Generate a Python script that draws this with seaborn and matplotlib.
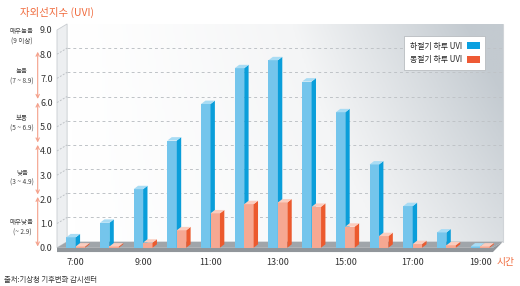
import numpy as np
import pandas as pd
import matplotlib
matplotlib.use("Agg")
import matplotlib.pyplot as plt
from matplotlib.patches import Polygon, Patch
from matplotlib.colors import LinearSegmentedColormap
import seaborn as sns

# ---------------- data ----------------
times = ["7:00", "8:00", "9:00", "10:00", "11:00", "12:00", "13:00",
         "14:00", "15:00", "16:00", "17:00", "18:00", "19:00"]
summer_uvi = [0.43, 1.03, 2.42, 4.43, 5.94, 7.42, 7.75, 6.87, 5.60, 3.44, 1.72, 0.63, 0.05]
winter_uvi = [0.05, 0.05, 0.21, 0.72, 1.42, 1.80, 1.87, 1.69, 0.87, 0.48, 0.15, 0.10, 0.05]
series_names = ["하절기 하루 UVI", "동절기 하루 UVI"]
xtick_labels = ["7:00", "9:00", "11:00", "13:00", "15:00", "17:00", "19:00"]
ytick_values = [0, 1, 2, 3, 4, 5, 6, 7, 8, 9]
levels = ["매우높음\n(9 이상)", "높음\n(7 ~ 8.9)", "보통\n(5 ~ 6.9)", "낮음\n(3 ~ 4.9)", "매우낮음\n(~ 2.9)"]
level_pos = [8.74, 7.09, 5.14, 2.9, 0.83]
arrow_spans = [(8.1, 6.15), (6.0, 4.35), (4.25, 2.2), (2.1, 0.05)]

df = pd.DataFrame({
    "time": times * 2,
    "season": [series_names[0]] * len(times) + [series_names[1]] * len(times),
    "uvi": summer_uvi + winter_uvi,
})

# ---------------- style ----------------
sns.set_theme(style="white")
plt.rcParams["font.family"] = ["Noto Sans CJK KR", "DejaVu Sans"]

front = {series_names[0]: "#74C5EC", series_names[1]: "#F6A892"}
side = {series_names[0]: "#0A9EDA", series_names[1]: "#EC5A2E"}
top = {series_names[0]: "#A9DCF4", series_names[1]: "#FBCDBF"}
legend_col = {series_names[0]: "#0AA0E0", series_names[1]: "#EE5A35"}
orange_txt = "#F06A3C"

fig = plt.figure(figsize=(5.2, 2.86), dpi=100)
ax = fig.add_axes([0.1054, 0.117, 0.8665, 0.812])

sns.barplot(data=df, x="time", y="uvi", hue="season", order=times,
            hue_order=series_names, palette=front, width=0.56, dodge=True,
            saturation=1, legend=False, ax=ax, edgecolor="none", linewidth=0)

ax.set_xlim(-0.62, 12.75)
ax.set_ylim(-0.2, 9.4)
ax.set_facecolor("none")
for s in ax.spines.values():
    s.set_visible(False)

# ---------------- 3D room (walls / floor) ----------------
xl, xr = -0.555, 12.38
wdx, wdy = 0.30, 0.25
top_v = 9.0

# back wall gradient
nx, ny = 200, 120
gx = np.linspace(0, 1, nx)
gy = np.linspace(0, 1, ny)
GX, GY = np.meshgrid(gx, gy)
grad = np.clip(0.75 * GX ** 1.3 + 0.35 * (1 - GY) * GX, 0, 1)
cmap = LinearSegmentedColormap.from_list("wall", ["#FFFFFF", "#F4F5F6", "#C3CAD0"])
ax.imshow(grad, extent=[xl + wdx, xr + wdx, wdy, top_v + wdy], origin="upper",
          cmap=cmap, aspect="auto", zorder=0.1, interpolation="bilinear")
ax.plot([xr + wdx, xr + wdx], [wdy, top_v + wdy], color="#D0D4D8", lw=0.8, zorder=0.15)

# left wall
ax.add_patch(Polygon([(xl, 0), (xl + wdx, wdy), (xl + wdx, top_v + wdy), (xl, top_v)],
                     closed=True, facecolor="#EDEFF1", edgecolor="#C8CCD0", lw=0.6, zorder=0.2))

# floor top and front slab
ax.add_patch(Polygon([(xl, 0), (xr, 0), (xr + wdx, wdy), (xl + wdx, wdy)], closed=True,
                     facecolor="#A0A5AA", edgecolor="none", zorder=0.3))
ax.add_patch(Polygon([(xl, -0.18), (xr, -0.18), (xr + wdx, wdy), (xr, 0), (xl, 0)], closed=True,
                     facecolor="#91969B", edgecolor="none", zorder=0.3))

# gridlines
for v in ytick_values[1:-1]:
    ax.plot([xl + wdx, xr + wdx], [v + wdy, v + wdy], ls=(0, (3, 3)), color="#BFC3C7",
            lw=0.7, zorder=0.25)
    ax.plot([xl, xl + wdx], [v, v + wdy], ls=(0, (2, 1.5)), color="#BFC3C7", lw=0.7, zorder=0.25)

# ---------------- bar depth faces ----------------
dx, dy = 0.13, 0.14
for ci, (cont, name) in enumerate(zip(ax.containers, series_names)):
    z = 2 + ci
    for p in cont.patches:
        x0 = p.get_x()
        w = p.get_width()
        h = p.get_height()
        x1 = x0 + w
        p.set_zorder(z)
        ax.add_patch(Polygon([(x1, 0), (x1 + dx, dy), (x1 + dx, h + dy), (x1, h)], closed=True,
                             facecolor=side[name], edgecolor="none", zorder=z))
        ax.add_patch(Polygon([(x0, h), (x1, h), (x1 + dx, h + dy), (x0 + dx, h + dy)], closed=True,
                             facecolor=top[name], edgecolor="none", zorder=z))

# ---------------- ticks ----------------
ax.set_yticks(ytick_values)
ax.set_yticklabels([f"{v:.1f}" for v in ytick_values], fontsize=6.5, color="#333333")
ax.set_xticks([times.index(t) for t in xtick_labels])
ax.set_xticklabels(xtick_labels, fontsize=6.5, color="#333333")
ax.tick_params(axis="y", length=0, pad=1.5)
ax.tick_params(axis="x", length=0, pad=4)
ax.set_xlabel("")
ax.set_ylabel("")

# ---------------- left UV level labels ----------------
tr = ax.get_yaxis_transform()
for lab, yv in zip(levels, level_pos):
    ax.text(-0.073, yv, lab, transform=tr, ha="center", va="center", fontsize=4.7,
            color="#444444", linespacing=1.45, clip_on=False)
for a, b in arrow_spans:
    ax.annotate("", xy=(-0.038, b), xytext=(-0.038, a), xycoords=tr, textcoords=tr,
                arrowprops=dict(arrowstyle="<->", color="#F4A08A", lw=0.8,
                                shrinkA=0, shrinkB=0, mutation_scale=6),
                annotation_clip=False)

# ---------------- texts ----------------
fig.text(20 / 520, 1 - 12 / 286, "자외선지수 (UVI)", fontsize=7.5, color=orange_txt,
         ha="left", va="center")
fig.text(497 / 520, 1 - 262 / 286, "시간", fontsize=7, color=orange_txt, ha="left", va="center")
fig.text(4 / 520, 1 - 280 / 286, "출처:기상청 기후변화 감시센터", fontsize=5.3, color="#333333",
         ha="left", va="center")

# ---------------- legend ----------------
handles = [Patch(facecolor=legend_col[n], edgecolor="none") for n in series_names]
leg = ax.legend(handles, series_names, loc="upper right",
                bbox_to_anchor=(489 / 520, 1 - 32 / 286), bbox_transform=fig.transFigure,
                markerfirst=False, fontsize=5.7, frameon=True, fancybox=False,
                edgecolor="#B8BCC0", framealpha=1, handlelength=1.6, handleheight=0.9,
                labelspacing=0.6, borderpad=0.7, handletextpad=0.6)
leg.get_frame().set_linewidth(0.6)
leg.set_zorder(10)

fig.savefig("out.png", dpi=100)
